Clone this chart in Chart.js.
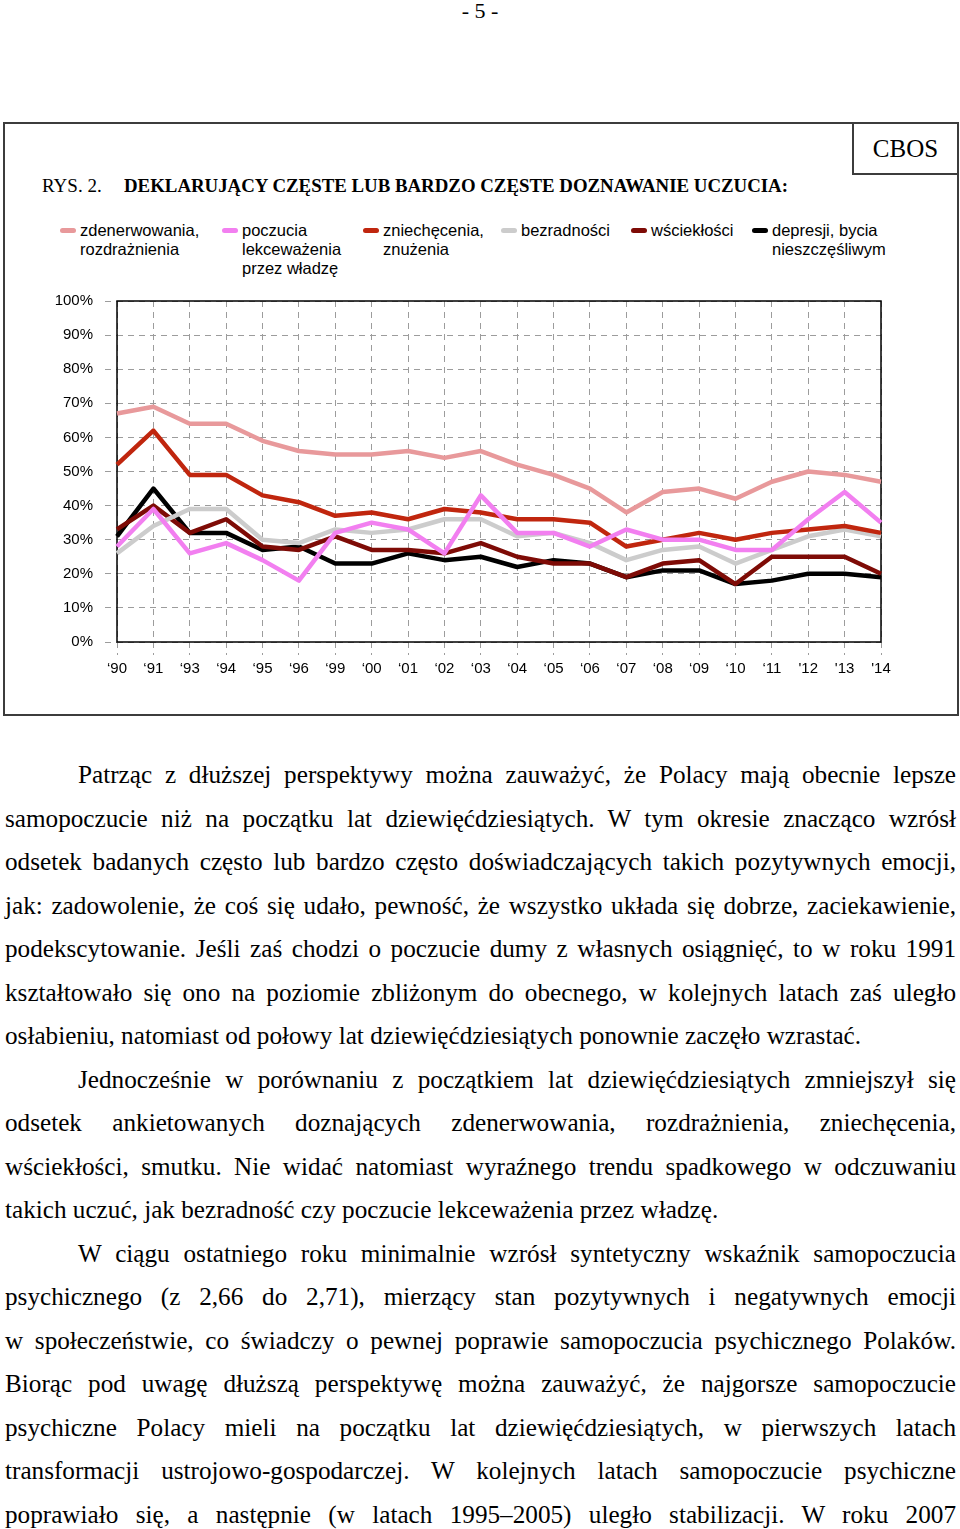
<!DOCTYPE html>
<html lang="pl">
<head>
<meta charset="utf-8">
<title>Rys. 2</title>
<script src="https://cdn.jsdelivr.net/npm/chart.js@4.4.1/dist/chart.umd.min.js"></script>
<style>
  html, body { margin: 0; padding: 0; background: #fff; }
  body {
    width: 960px; height: 1529px; position: relative; overflow: hidden;
    font-family: "Liberation Serif", "Times New Roman", serif; color: #000;
  }
  #pagenum { position: absolute; top: 0; left: 0; width: 960px; text-align: center; font-size: 22px; line-height: 22px; }
  #frame { position: absolute; left: 3px; top: 122px; width: 956px; height: 594px; box-sizing: border-box; border: 2px solid #3c3c3c; }
  #cbos {
    position: absolute; left: 852px; top: 122px; width: 107px; height: 53px; box-sizing: border-box;
    border: 2px solid #3c3c3c; font-size: 25px; line-height: 49px; text-align: center;
  }
  #title { position: absolute; left: 42px; top: 175px; font-size: 19px; line-height: 22px; white-space: nowrap; }
  #title .bold { font-weight: bold; position: absolute; left: 82px; top: 0; transform-origin: 0 50%; }
  #legend { position: absolute; left: 0; top: 0; font-family: "Liberation Sans", Arial, sans-serif; font-size: 16.5px; line-height: 19px; }
  #legend .item { position: absolute; top: 221px; white-space: nowrap; }
  #legend .mark { position: absolute; left: -20px; top: 7px; width: 16px; height: 5px; border-radius: 3px; }
  #chartbox { position: absolute; left: 0; top: 280px; width: 960px; height: 420px; }
  #text { position: absolute; left: 5px; top: 753px; width: 951px; font-size: 25.2px; line-height: 43.5px; }
  #text .ln { text-align: justify; text-align-last: justify; white-space: nowrap; }
  #text .ln.last { text-align-last: left; }
  #text .ln.ind { padding-left: 73px; }
</style>
</head>
<body>
<div id="pagenum">- 5 -</div>
<div id="frame"></div>
<div id="cbos">CBOS</div>
<div id="title">RYS. 2.<span class="bold" id="titlebold">DEKLARUJĄCY CZĘSTE LUB BARDZO CZĘSTE DOZNAWANIE UCZUCIA:</span></div>
<div id="legend"></div>
<div id="chartbox"><canvas id="chart" width="960" height="420"></canvas></div>
<div id="text">
  <div class="ln ind">Patrząc z dłuższej perspektywy można zauważyć, że Polacy mają obecnie lepsze</div>
  <div class="ln">samopoczucie niż na początku lat dziewięćdziesiątych. W tym okresie znacząco wzrósł</div>
  <div class="ln">odsetek badanych często lub bardzo często doświadczających takich pozytywnych emocji,</div>
  <div class="ln">jak: zadowolenie, że coś się udało, pewność, że wszystko układa się dobrze, zaciekawienie,</div>
  <div class="ln">podekscytowanie. Jeśli zaś chodzi o poczucie dumy z własnych osiągnięć, to w roku 1991</div>
  <div class="ln">kształtowało się ono na poziomie zbliżonym do obecnego, w kolejnych latach zaś uległo</div>
  <div class="ln last">osłabieniu, natomiast od połowy lat dziewięćdziesiątych ponownie zaczęło wzrastać.</div>
  <div class="ln ind">Jednocześnie w porównaniu z początkiem lat dziewięćdziesiątych zmniejszył się</div>
  <div class="ln">odsetek ankietowanych doznających zdenerwowania, rozdrażnienia, zniechęcenia,</div>
  <div class="ln">wściekłości, smutku. Nie widać natomiast wyraźnego trendu spadkowego w odczuwaniu</div>
  <div class="ln last">takich uczuć, jak bezradność czy poczucie lekceważenia przez władzę.</div>
  <div class="ln ind">W ciągu ostatniego roku minimalnie wzrósł syntetyczny wskaźnik samopoczucia</div>
  <div class="ln">psychicznego (z 2,66 do 2,71), mierzący stan pozytywnych i negatywnych emocji</div>
  <div class="ln">w społeczeństwie, co świadczy o pewnej poprawie samopoczucia psychicznego Polaków.</div>
  <div class="ln">Biorąc pod uwagę dłuższą perspektywę można zauważyć, że najgorsze samopoczucie</div>
  <div class="ln">psychiczne Polacy mieli na początku lat dziewięćdziesiątych, w pierwszych latach</div>
  <div class="ln">transformacji ustrojowo-gospodarczej. W kolejnych latach samopoczucie psychiczne</div>
  <div class="ln">poprawiało się, a następnie (w latach 1995–2005) uległo stabilizacji. W roku 2007</div>
</div>

<script>
// dane (w %)
const years = ['‘90', '‘91', '‘93', '‘94', '‘95', '‘96', '‘99', '‘00', '‘01', '‘02', '‘03',
               '‘04', '‘05', '‘06', '‘07', '‘08', '‘09', '‘10', '‘11', "'12", "'13", "'14"];

const seriesNames = [
    ['zdenerwowania,', 'rozdrażnienia'],
    ['poczucia', 'lekceważenia', 'przez władzę'],
    ['zniechęcenia,', 'znużenia'],
    ['bezradności'],
    ['wściekłości'],
    ['depresji, bycia', 'nieszczęśliwym']
];

const zdenerwowanie = [67, 69, 64, 64, 59, 56, 55, 55, 56, 54, 56, 52, 49, 45, 38, 44, 45, 42, 47, 50, 49, 47];
const lekcewazenie  = [28, 39, 26, 29, 24, 18, 32, 35, 33, 26, 43, 32, 32, 28, 33, 30, 30, 27, 27, 36, 44, 35];
const zniechecenie  = [52, 62, 49, 49, 43, 41, 37, 38, 36, 39, 38, 36, 36, 35, 28, 30, 32, 30, 32, 33, 34, 32];
const bezradnosc    = [26, 34, 39, 39, 30, 29, 33, 32, 33, 36, 36, 31, 32, 29, 24, 27, 28, 23, 27, 31, 33, 31];
const wscieklosc    = [33, 40, 32, 36, 28, 27, 31, 27, 27, 26, 29, 25, 23, 23, 19, 23, 24, 17, 25, 25, 25, 20];
const depresja      = [31, 45, 32, 32, 27, 28, 23, 23, 26, 24, 25, 22, 24, 23, 19, 21, 21, 17, 18, 20, 20, 19];

const yTicks = [0, 10, 20, 30, 40, 50, 60, 70, 80, 90, 100];

// wygląd
const colors = ['#e8999b', '#f27ff0', '#c0260e', '#cccccc', '#7e0b06', '#000000'];
const legendLeft = [80, 242, 383, 521, 651, 772];
const gridColor = '#9c9c9c';
const dash = [6, 5];

// legenda (HTML)
const legend = document.getElementById('legend');
seriesNames.forEach((lines, i) => {
    const item = document.createElement('div');
    item.className = 'item';
    item.style.left = legendLeft[i] + 'px';
    item.innerHTML = '<span class="mark" style="background:' + colors[i] + '"></span>' + lines.join('<br>');
    legend.appendChild(item);
});

// ramka obszaru wykresu
const frameBox = {
    id: 'frameBox',
    beforeDatasetsDraw(chart) {
        const a = chart.chartArea;
        const ctx = chart.ctx;
        ctx.save();
        ctx.strokeStyle = '#000';
        ctx.lineWidth = 1.5;
        ctx.strokeRect(a.left, a.top, a.right - a.left, a.bottom - a.top);
        ctx.restore();
    }
};

const dataSets = [zdenerwowanie, lekcewazenie, zniechecenie, bezradnosc, wscieklosc, depresja];

new Chart(document.getElementById('chart'), {
    type: 'line',
    data: {
        labels: years,
        datasets: dataSets.map((d, i) => ({
            label: seriesNames[i].join(' '),
            data: d,
            borderColor: colors[i],
            backgroundColor: colors[i],
            borderWidth: 4.5,
            pointRadius: 0,
            tension: 0,
            borderJoinStyle: 'round',
            borderCapStyle: 'butt'
        }))
    },
    options: {
        responsive: false,
        animation: false,
        devicePixelRatio: 1,
        layout: { padding: { left: 0, right: 79, top: 21, bottom: 0 } },
        plugins: {
            legend: { display: false },
            tooltip: { enabled: false }
        },
        scales: {
            x: {
                offset: false,
                grid: { color: gridColor, lineWidth: 1, tickLength: 13, tickColor: gridColor, tickBorderDash: dash },
                border: { display: false, dash: dash },
                ticks: {
                    color: '#000', padding: 5, maxRotation: 0, autoSkip: false,
                    font: { family: '"Liberation Sans", Arial, sans-serif', size: 15 }
                },
                afterFit(scale) { scale.height = 58; }
            },
            y: {
                min: 0,
                max: 100,
                afterBuildTicks(scale) { scale.ticks = yTicks.map(v => ({ value: v })); },
                grid: { color: gridColor, lineWidth: 1, tickLength: 12, tickColor: gridColor, tickBorderDash: dash },
                border: { display: false, dash: dash },
                ticks: {
                    color: '#000', padding: 12,
                    font: { family: '"Liberation Sans", Arial, sans-serif', size: 15 },
                    callback: v => v + '%'
                },
                afterFit(scale) { scale.width = 117; }
            }
        }
    },
    plugins: [frameBox]
});

// dopasowanie szerokości tytułu
function fitWidth(el, target) {
    el.style.display = 'inline-block';
    const w = el.getBoundingClientRect().width;
    el.style.transformOrigin = '0 50%';
    el.style.transform = 'scaleX(' + (target / w) + ')';
}
fitWidth(document.getElementById('titlebold'), 664);

// dopasowanie wierszy tekstu, które są za szerokie
document.querySelectorAll('#text .ln').forEach(el => {
    const span = document.createElement('span');
    span.textContent = el.textContent;
    span.style.whiteSpace = 'nowrap';
    el.textContent = '';
    el.appendChild(span);
    const pad = el.classList.contains('ind') ? 73 : 0;
    const avail = 951 - pad;
    const w = span.getBoundingClientRect().width;
    if (w > avail) {
        const n = span.textContent.length;
        el.style.letterSpacing = ((avail - w) / n - 0.05) + 'px';
    }
    el.textContent = span.textContent;
});
</script>
</body>
</html>
